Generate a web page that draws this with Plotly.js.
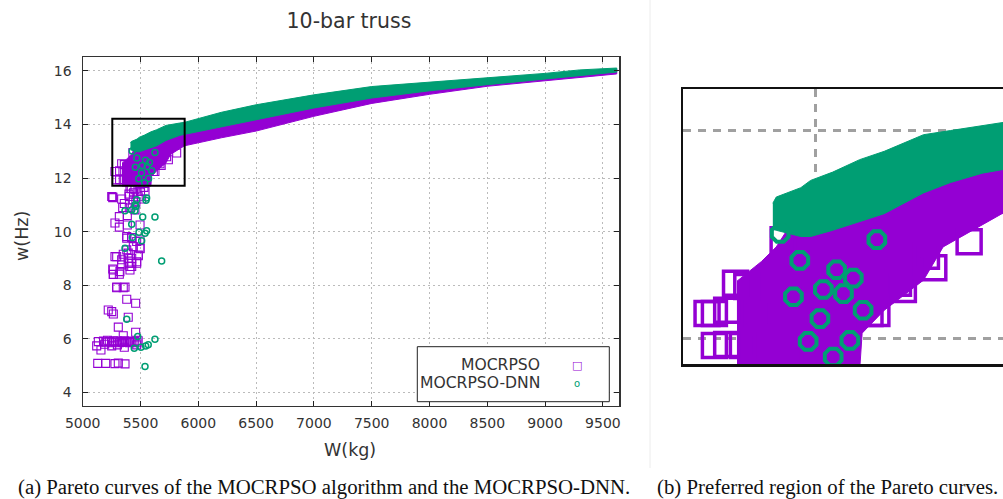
<!DOCTYPE html>
<html>
<head>
<meta charset="utf-8">
<script src="https://cdn.plot.ly/plotly-3.0.1.min.js"></script>
<style>html,body{margin:0;padding:0;background:#fff;overflow:hidden}#chart{width:1003px;height:499px}</style>
</head>
<body>
<div id="chart"></div>
<script>
// ---- Data ----
// Dense band of the MOCRPSO Pareto front (lower / upper edge of the point cloud)
const mocrpsoBandX    = [5340, 5390, 5420, 5450, 5500, 5590, 5595, 5640, 5720, 5760, 5880, 6000, 6200, 6500, 7000, 7500, 8000, 8500, 9000, 9300, 9620];
const mocrpsoBandLow  = [11.70, 11.70, 11.70, 11.70, 11.70, 11.70, 12.05, 12.27, 12.56, 12.88, 13.20, 13.32, 13.50, 13.75, 14.30, 14.78, 15.12, 15.42, 15.63, 15.75, 15.88];
const mocrpsoBandHigh = [12.55, 12.74, 12.88, 13.10, 13.20, 13.35, 13.36, 13.45, 13.60, 13.70, 13.90, 14.05, 14.30, 14.60, 15.00, 15.30, 15.52, 15.70, 15.86, 15.96, 16.06];

// Dense band of the MOCRPSO-DNN Pareto front
const dnnBandX    = [5413, 5420, 5470, 5490, 5535, 5590, 5640, 5720, 5775, 5840, 5885, 6000, 6200, 6500, 7000, 7500, 8000, 8500, 9000, 9300, 9620];
const dnnBandLow  = [13.05, 13.04, 12.98, 12.98, 13.04, 13.12, 13.20, 13.40, 13.50, 13.59, 13.63, 13.73, 13.92, 14.17, 14.61, 14.98, 15.25, 15.48, 15.70, 15.82, 15.95];
const dnnBandHigh = [13.30, 13.36, 13.45, 13.52, 13.60, 13.72, 13.80, 13.96, 14.00, 14.05, 14.08, 14.20, 14.45, 14.73, 15.10, 15.41, 15.58, 15.74, 15.90, 16.03, 16.10];

// Isolated MOCRPSO solutions (W in kg, w in Hz)
const mocrpsoW = [5381,5458,5221,5251,5265,5394,5308,5351,5458,
  5180,5200,5215,5230,5250,5265,5280,5300,5315,5330,5345,5360,5375,5390,5405,5420,5435,5450,5470,5480,
  5135,5121,5158,5251,5360,5467,5190,5300,
  5130,5199,5279,5308,5366,
  5294,5366,5265,5265,5322,5279,5337,5394,5424,5467,5381,5438,5496,5381,5424,5496,5481,5409,5424,
  5260,5337,5403,5438,5510,5346,5403,5452,5317,5386,5279,5317,5386,5496,5381,5424,5467,5496,5294,5351,5394,5424,5481,5337,5394,5409,5467,5260,5265,5317,5294,5351,
  5294,5294,5337,5351,5381,5611,5669,5741,5813,5409,5452,5496,5539,5260,5279,5251,
  5319,5319,5360,5679,5726,5434,5625,
  5420,5440,5400,5460,5480,5360,5500,5530];
const mocrpsoF = [7.48,7.33,7.08,7.02,6.93,6.81,6.44,6.12,6.25,
  5.92,5.88,5.95,5.90,5.86,5.93,5.88,5.92,5.86,5.91,5.87,5.93,5.88,5.90,5.86,5.92,5.88,5.90,5.86,5.93,
  5.90,5.74,5.59,5.74,5.69,5.78,5.80,5.78,
  5.09,5.09,5.08,5.10,5.07,
  7.93,7.93,8.57,8.40,8.51,9.07,8.95,9.01,8.82,8.88,9.32,9.44,9.38,9.82,9.78,9.69,9.13,8.57,8.70,
  11.27,11.22,11.31,11.19,11.22,10.90,10.88,10.81,10.56,10.60,10.32,10.17,10.25,10.25,9.76,9.78,9.63,9.36,9.07,9.16,9.20,9.01,9.10,8.76,8.82,8.70,8.82,8.61,8.41,8.41,7.91,7.91,
  12.24,11.93,12.53,11.93,12.24,12.24,12.53,12.68,12.93,11.62,11.56,11.75,11.50,11.29,12.24,11.31,
  12.27,11.94,12.50,12.47,12.79,12.95,12.24,
  11.60,11.45,11.40,11.10,11.30,11.05,11.50,11.65];

// Isolated MOCRPSO-DNN solutions
const dnnW = [5381,5476,5625,5446,5504,5545,5567,5539,
  5548,5461,5366,5452,5519,5625,5424,5553,5487,5430,5510,5366,5683,5539,
  5467,5553,5424,5453,
  5428,5468,5543,5577,5455,5516,5557,5625,5597,5509,5485,5570,5536];
const dnnF = [6.73,6.09,5.99,5.65,5.69,5.74,5.78,4.97,
  11.17,10.94,10.78,10.78,10.55,10.55,10.28,10.03,9.98,9.78,9.66,9.38,8.91,9.94,
  11.19,11.25,10.81,11.00,
  13.01,12.75,12.66,12.58,12.40,12.47,12.43,12.95,12.27,12.19,11.97,11.98,11.82];

const seriesNames = ['MOCRPSO', 'MOCRPSO-DNN'];
const xTicks = [5000,5500,6000,6500,7000,7500,8000,8500,9000,9500];
const yTicks = [4,6,8,10,12,14,16];
const zoomBox = {w0: 5256, w1: 5882, f0: 11.71, f1: 14.21};

// ---- Styling ----
const PURPLE = '#9400d3', GREEN = '#009e73';
const W = 1003, H = 499;
const px = v => v / W, py = v => 1 - v / H;

function band(xs, lo, hi, color, xa, ya) {
  return {x: xs.concat(xs.slice().reverse()), y: lo.concat(hi.slice().reverse()),
    type: 'scatter', mode: 'lines', fill: 'toself', fillcolor: color,
    line: {color: color, width: 1}, xaxis: xa, yaxis: ya, showlegend: false, hoverinfo: 'skip'};
}
function pts(xs, ys, name, sym, size, lw, color, xa, ya) {
  return {x: xs, y: ys, name: name, type: 'scatter', mode: 'markers',
    marker: {symbol: sym, size: size, color: color, line: {color: color, width: lw}},
    xaxis: xa, yaxis: ya, showlegend: false, cliponaxis: true};
}

const traces = [
  band(mocrpsoBandX, mocrpsoBandLow, mocrpsoBandHigh, PURPLE, 'x', 'y'),
  pts(mocrpsoW, mocrpsoF, seriesNames[0], 'square-open', 8, 1.1, PURPLE, 'x', 'y'),
  band(dnnBandX, dnnBandLow, dnnBandHigh, GREEN, 'x', 'y'),
  pts(dnnW, dnnF, seriesNames[1], 'circle-open', 6, 1.5, GREEN, 'x', 'y'),
  band(mocrpsoBandX, mocrpsoBandLow, mocrpsoBandHigh, PURPLE, 'x2', 'y2'),
  pts(mocrpsoW, mocrpsoF, seriesNames[0], 'square-open', 24, 3.5, PURPLE, 'x2', 'y2'),
  band(dnnBandX, dnnBandLow, dnnBandHigh, GREEN, 'x2', 'y2'),
  pts(dnnW, dnnF, seriesNames[1], 'octagon-open', 18, 4, GREEN, 'x2', 'y2')
];

const tickFont = {family: 'DejaVu Sans', size: 14, color: '#333'};
const captionFont = {family: 'Liberation Serif', size: 20.8, color: '#111'};
const layout = {
  width: W, height: H, margin: {l: 0, r: 0, t: 0, b: 0},
  paper_bgcolor: '#fff', plot_bgcolor: '#fff', showlegend: false, hovermode: false,
  title: {text: '10-bar truss', font: {family: 'DejaVu Sans', size: 20.5, color: '#333'},
    x: px(349), xanchor: 'center', y: py(21), yanchor: 'middle', xref: 'paper', yref: 'paper'},
  xaxis: {domain: [px(82.7), px(619.3)], range: [5000, 9642], tickvals: xTicks,
    ticks: 'inside', ticklen: 5, tickcolor: '#222', mirror: 'allticks', showline: true,
    linecolor: '#333', linewidth: 1.2, showgrid: true, gridcolor: '#bbb', griddash: '2px,3px',
    gridwidth: 1, zeroline: false, tickfont: tickFont, ticklabelstandoff: 4},
  yaxis: {domain: [py(406), py(57.3)], range: [3.5, 16.5], tickvals: yTicks,
    ticks: 'inside', ticklen: 5, tickcolor: '#222', mirror: 'allticks', showline: true,
    linecolor: '#333', linewidth: 1.2, showgrid: true, gridcolor: '#bbb', griddash: '2px,3px',
    gridwidth: 1, zeroline: false, tickfont: tickFont, ticklabelstandoff: 7},
  xaxis2: {domain: [px(683), 1], range: [5230, 5882], anchor: 'y2', tickvals: [5500],
    showticklabels: false, ticks: '', showline: true, mirror: true, linecolor: '#111', linewidth: 2.5,
    showgrid: true, gridcolor: '#a0a0a0', gridwidth: 3, griddash: '8px,7px', zeroline: false},
  yaxis2: {domain: [py(364.3), py(89)], range: [11.75, 14.40], anchor: 'x2', tickvals: [12, 14],
    showticklabels: false, ticks: '', showline: true, mirror: false, linecolor: '#111', linewidth: 2.5,
    showgrid: true, gridcolor: '#a0a0a0', gridwidth: 3, griddash: '8px,7px', zeroline: false},
  shapes: [
    {type: 'rect', xref: 'x', yref: 'y', x0: zoomBox.w0, x1: zoomBox.w1, y0: zoomBox.f0, y1: zoomBox.f1,
      line: {color: '#000', width: 2}},
    {type: 'rect', xref: 'paper', yref: 'paper', x0: px(417.3), x1: px(609.3), y0: py(401.7), y1: py(346.7),
      line: {color: '#222', width: 1}, fillcolor: '#fff'},
    {type: 'line', xref: 'paper', yref: 'paper', x0: px(650), x1: px(650), y0: py(468), y1: 1,
      line: {color: '#ececec', width: 1}}
  ],
  annotations: [
    {text: 'W(kg)', xref: 'paper', yref: 'paper', x: px(350), y: py(450), xanchor: 'center', yanchor: 'middle',
      showarrow: false, font: {family: 'DejaVu Sans', size: 17.5, color: '#333'}},
    {text: 'w(Hz)', xref: 'paper', yref: 'paper', x: px(22), y: py(236), xanchor: 'center', yanchor: 'middle',
      textangle: -90, showarrow: false, font: {family: 'DejaVu Sans', size: 17.5, color: '#333'}},
    {text: seriesNames[0], xref: 'paper', yref: 'paper', x: px(542), y: py(365), xanchor: 'right', yanchor: 'middle',
      showarrow: false, font: {family: 'DejaVu Sans', size: 15.6, color: '#333'}},
    {text: seriesNames[1], xref: 'paper', yref: 'paper', x: px(542), y: py(383), xanchor: 'right', yanchor: 'middle',
      showarrow: false, font: {family: 'DejaVu Sans', size: 15.6, color: '#333'}},
    {text: '□', xref: 'paper', yref: 'paper', x: px(577), y: py(365), xanchor: 'center', yanchor: 'middle',
      showarrow: false, font: {family: 'DejaVu Sans', size: 11, color: PURPLE}},
    {text: 'o', xref: 'paper', yref: 'paper', x: px(577), y: py(383.5), xanchor: 'center', yanchor: 'middle',
      showarrow: false, font: {family: 'DejaVu Sans', size: 10, color: GREEN}},
    {text: '(a) Pareto curves of the MOCRPSO algorithm and the MOCRPSO-DNN.', xref: 'paper', yref: 'paper',
      x: px(324), y: py(487), xanchor: 'center', yanchor: 'middle', showarrow: false, font: captionFont},
    {text: '(b) Preferred region of the Pareto curves.', xref: 'paper', yref: 'paper',
      x: px(655), y: py(487), xanchor: 'left', yanchor: 'middle', showarrow: false, font: captionFont}
  ]
};

Plotly.newPlot('chart', traces, layout, {staticPlot: true, displayModeBar: false});
</script>
</body>
</html>
